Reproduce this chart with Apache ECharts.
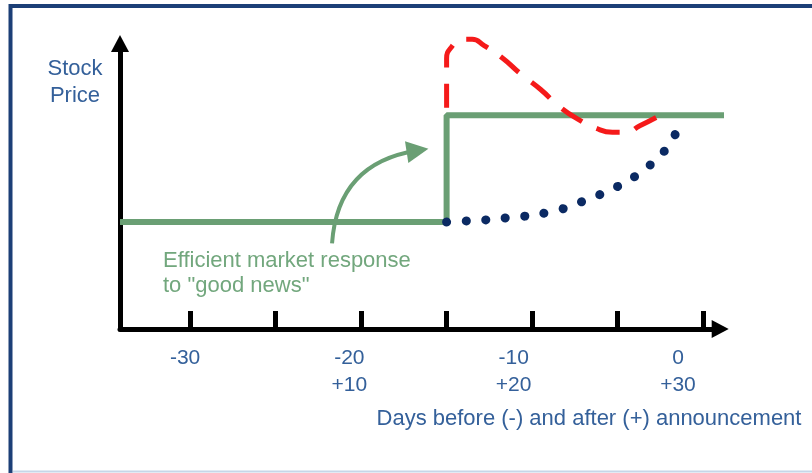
<!DOCTYPE html>
<html>
<head>
<meta charset="utf-8">
<script src="https://cdn.jsdelivr.net/npm/echarts@6/dist/echarts.min.js"></script>
<style>
  html, body { margin: 0; padding: 0; background: #fff; }
  #chart { width: 812px; height: 473px; }
</style>
</head>
<body>
<div id="chart"></div>
<script>
// day ticks along the axis and the two-row labels under it
var tickDays = [-30, -25, -20, -15, -10, -5, 0];
var labelDays = [-30, -20, -10, 0];
var labelText = ['-30', '-20\n+10', '-10\n+20', '0\n+30'];

// efficient market: flat, then a jump on the announcement day
var efficientLine = [[-34.1, 10], [-15, 10], [-15, 20], [1.5, 20]];

// overreaction (red dashes)
var overLine = [
  [-15, 20.7], [-15, 23.7], [-15, 25.3], [-14.7, 26.4], [-14.1, 27.1], [-13.5, 27.1],
  [-12.8, 26.5], [-11.7, 25.3], [-10.7, 23.9], [-9.5, 22.4], [-8.4, 20.8], [-7.3, 19.6],
  [-6.3, 18.8], [-5.3, 18.4], [-4.5, 18.4], [-3.7, 19.0], [-2.6, 19.9]
];

// underreaction (blue dots)
var underLine = [
  [-15, 10.0], [-13.9, 10.1], [-12.7, 10.2], [-11.5, 10.4], [-10.2, 10.6], [-9.1, 10.9],
  [-7.9, 11.4], [-6.8, 12.1], [-5.7, 12.8], [-4.7, 13.6], [-3.6, 14.7], [-2.8, 15.8],
  [-2.0, 17.2], [-1.4, 19.0]
];

// curved pointer from the note to the jump
var pointerLine = [[-21.7, 8.0], [-16.7, 16.7]];

var blueText = '#34609a';
var greenCol = '#6a9f74';
var font = '"Liberation Sans", Arial, sans-serif';

var myChart = echarts.init(document.getElementById('chart'));
var option = {
  animation: false,
  backgroundColor: '#fff',
  grid: { left: 120, right: 91.8, top: 43.5, bottom: 144 },
  xAxis: [{
    type: 'value',
    min: -34.1,
    max: 1.0,
    axisLine: {
      show: true,
      onZero: false,
      symbol: ['none', 'triangle'],
      symbolSize: [18, 17],
      lineStyle: { color: '#000', width: 5 }
    },
    axisTick: {
      show: true,
      inside: true,
      length: 18,
      customValues: tickDays,
      lineStyle: { color: '#000', width: 5 }
    },
    axisLabel: { show: false },
    splitLine: { show: false }
  }, {
    // label row only; the labels sit a little left of the ticks like the original
    type: 'value',
    position: 'bottom',
    min: -33.96,
    max: 2.57,
    axisLine: { show: false, onZero: false },
    axisTick: { show: false },
    splitLine: { show: false },
    axisLabel: {
      show: true,
      customValues: labelDays,
      margin: 16,
      color: blueText,
      fontFamily: font,
      fontSize: 21,
      lineHeight: 27,
      align: 'center',
      formatter: function (v) {
        var i = labelDays.indexOf(v);
        return i >= 0 ? labelText[i] : '';
      }
    }
  }],
  yAxis: {
    type: 'value',
    min: 0,
    max: 26.7,
    axisLine: {
      show: true,
      onZero: false,
      symbol: ['none', 'triangle'],
      symbolSize: [18, 17],
      lineStyle: { color: '#000', width: 5 }
    },
    axisTick: { show: false },
    axisLabel: { show: false },
    splitLine: { show: false }
  },
  graphic: [
    {
      type: 'polyline',
      shape: { points: [[10.5, 473], [10.5, 6], [812, 6]] },
      style: { fill: null, stroke: '#1c3f77', lineWidth: 4 },
      silent: true
    },
    {
      type: 'line',
      shape: { x1: 13, y1: 471.5, x2: 812, y2: 471.5 },
      style: { stroke: '#c6d6e8', lineWidth: 2 },
      silent: true
    },
    {
      type: 'text',
      x: 75, y: 55.5,
      style: {
        text: 'Stock\nPrice',
        align: 'center',
        verticalAlign: 'top',
        lineHeight: 27,
        font: '22px ' + font,
        fill: blueText
      }
    },
    {
      type: 'text',
      x: 163, y: 248.5,
      style: {
        text: 'Efficient market response\nto "good news"',
        verticalAlign: 'top',
        lineHeight: 25,
        font: '22px ' + font,
        fill: '#72a77d'
      }
    },
    {
      type: 'text',
      x: 589, y: 406,
      style: {
        text: 'Days before (-) and after (+) announcement',
        align: 'center',
        verticalAlign: 'top',
        lineHeight: 26,
        font: '22px ' + font,
        fill: blueText
      }
    }
  ],
  series: [
    {
      name: 'efficient',
      type: 'line',
      data: efficientLine,
      symbol: 'none',
      clip: false,
      lineStyle: { color: greenCol, width: 6 },
      z: 2
    },
    {
      name: 'overreaction',
      type: 'line',
      data: overLine,
      symbol: 'none',
      smooth: 0.5,
      clip: false,
      lineStyle: { color: '#f51a1a', width: 5, type: [24, 16] },
      z: 3
    },
    {
      name: 'underreaction',
      type: 'line',
      data: underLine,
      symbol: 'none',
      smooth: 0.5,
      clip: false,
      lineStyle: { color: '#0b2a63', width: 9, type: [0.1, 19.5], cap: 'round' },
      z: 4
    },
    {
      name: 'pointer',
      type: 'lines',
      coordinateSystem: 'cartesian2d',
      symbol: ['none', 'triangle'],
      symbolSize: 22,
      lineStyle: { color: greenCol, width: 4, curveness: 0.4, opacity: 1 },
      data: [{ coords: pointerLine }],
      z: 2
    }
  ]
};
myChart.setOption(option);
window.onresize = function () {
  myChart.resize();
};
</script>
</body>
</html>
